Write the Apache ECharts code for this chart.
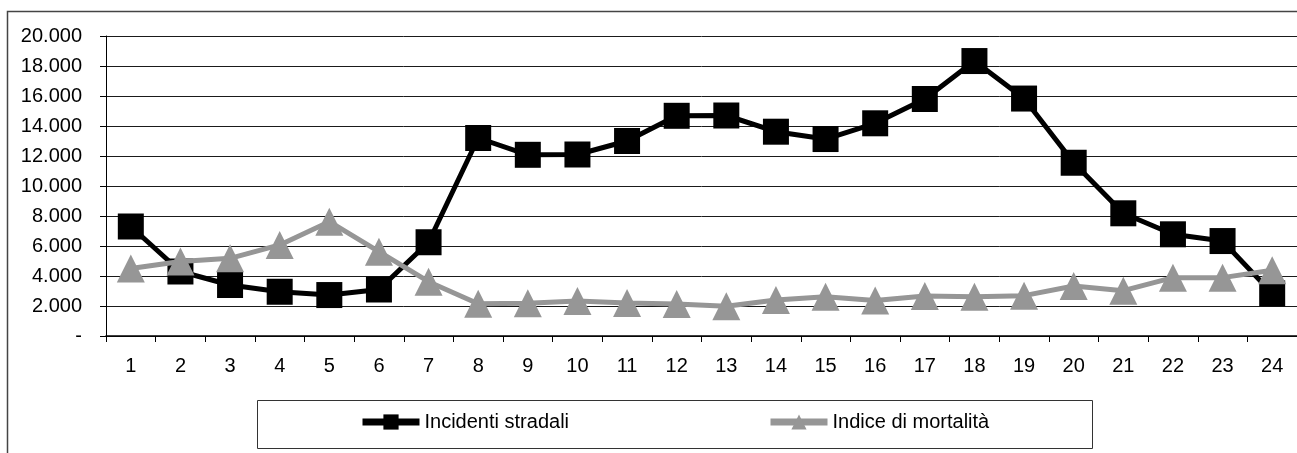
<!DOCTYPE html>
<html>
<head>
<meta charset="utf-8">
<script src="https://cdn.jsdelivr.net/npm/echarts@6/dist/echarts.min.js"></script>
<style>
  html, body { margin: 0; padding: 0; background: #ffffff; }
  #chart { width: 1297px; height: 453px; }
</style>
</head>
<body>
<div id="chart"></div>
<script>
// Hour of the day (1..24)
const ore = ['1','2','3','4','5','6','7','8','9','10','11','12','13','14','15','16','17','18','19','20','21','22','23','24'];

// Road accidents per hour
const incidentiStradali = [7300, 4300, 3400, 2950, 2730, 3100, 6250, 13200, 12080, 12100, 13000, 14680,
                           14700, 13620, 13130, 14180, 15800, 18330, 15830, 11550, 8180, 6780, 6330, 2840];

// Mortality index per hour
const indiceMortalita = [4500, 4960, 5180, 6070, 7620, 5620, 3620, 2150, 2180, 2330, 2200, 2130,
                         1980, 2400, 2620, 2360, 2670, 2620, 2690, 3330, 3020, 3890, 3890, 4380];

const nomi = ['Incidenti stradali', 'Indice di mortalità'];

const FONT = '"Liberation Sans", Arial, sans-serif';

// Italian number format: dot as thousands separator, dash for zero
function formatIt(v) {
  if (v === 0) return '-';
  return String(v).replace(/\B(?=(\d{3})+(?!\d))/g, '.');
}

const chart = echarts.init(document.getElementById('chart'), null, { renderer: 'canvas' });

const legendText = { fontFamily: FONT, fontSize: 20, color: '#000', padding: [7, 0, 0, 0] };

chart.setOption({
  backgroundColor: '#ffffff',
  animation: false,
  graphic: [
    {
      type: 'rect',
      shape: { x: 7.5, y: 11.5, width: 1400, height: 500 },
      style: { fill: 'none', stroke: '#444444', lineWidth: 1.5 },
      silent: true
    },
    {
      type: 'rect',
      shape: { x: 257.5, y: 400.5, width: 835, height: 48 },
      style: { fill: '#ffffff', stroke: '#333333', lineWidth: 1 },
      silent: true
    }
  ],
  legend: [
    {
      data: [nomi[0]],
      left: 359, top: 412,
      itemWidth: 57, itemHeight: 19, itemGap: 0,
      padding: 0,
      textStyle: legendText,
      lineStyle: { width: 7 }
    },
    {
      data: [nomi[1]],
      left: 767, top: 412,
      itemWidth: 57, itemHeight: 19, itemGap: 0,
      padding: 0,
      textStyle: legendText,
      lineStyle: { width: 7 }
    }
  ],
  grid: { left: 106, top: 36, width: 1196, height: 300, containLabel: false },
  xAxis: {
    type: 'category',
    data: ore,
    boundaryGap: true,
    axisLine: { show: true, lineStyle: { color: '#000', width: 1.5 } },
    axisTick: { show: true, length: 6, alignWithLabel: false, lineStyle: { color: '#000', width: 1 } },
    axisLabel: { margin: 20, fontFamily: FONT, fontSize: 20, color: '#000', interval: 0 },
    splitLine: { show: false }
  },
  yAxis: {
    type: 'value',
    min: 0, max: 20000, interval: 2000,
    axisLine: { show: true, lineStyle: { color: '#000', width: 1 } },
    axisTick: { show: true, length: 6, lineStyle: { color: '#000', width: 1 } },
    axisLabel: { margin: 24, fontFamily: FONT, fontSize: 20, color: '#000', formatter: formatIt },
    splitLine: { show: true, lineStyle: { color: '#1a1a1a', width: 1 } }
  },
  series: [
    {
      name: nomi[0],
      type: 'line',
      data: incidentiStradali,
      symbol: 'rect',
      symbolSize: 26,
      showAllSymbol: true,
      z: 3,
      lineStyle: { color: '#000000', width: 5 },
      itemStyle: { color: '#000000', borderWidth: 0 }
    },
    {
      name: nomi[1],
      type: 'line',
      data: indiceMortalita,
      symbol: 'triangle',
      symbolSize: 28,
      showAllSymbol: true,
      z: 4,
      lineStyle: { color: '#969696', width: 5 },
      itemStyle: { color: '#969696', borderWidth: 0 }
    }
  ]
});
</script>
</body>
</html>
